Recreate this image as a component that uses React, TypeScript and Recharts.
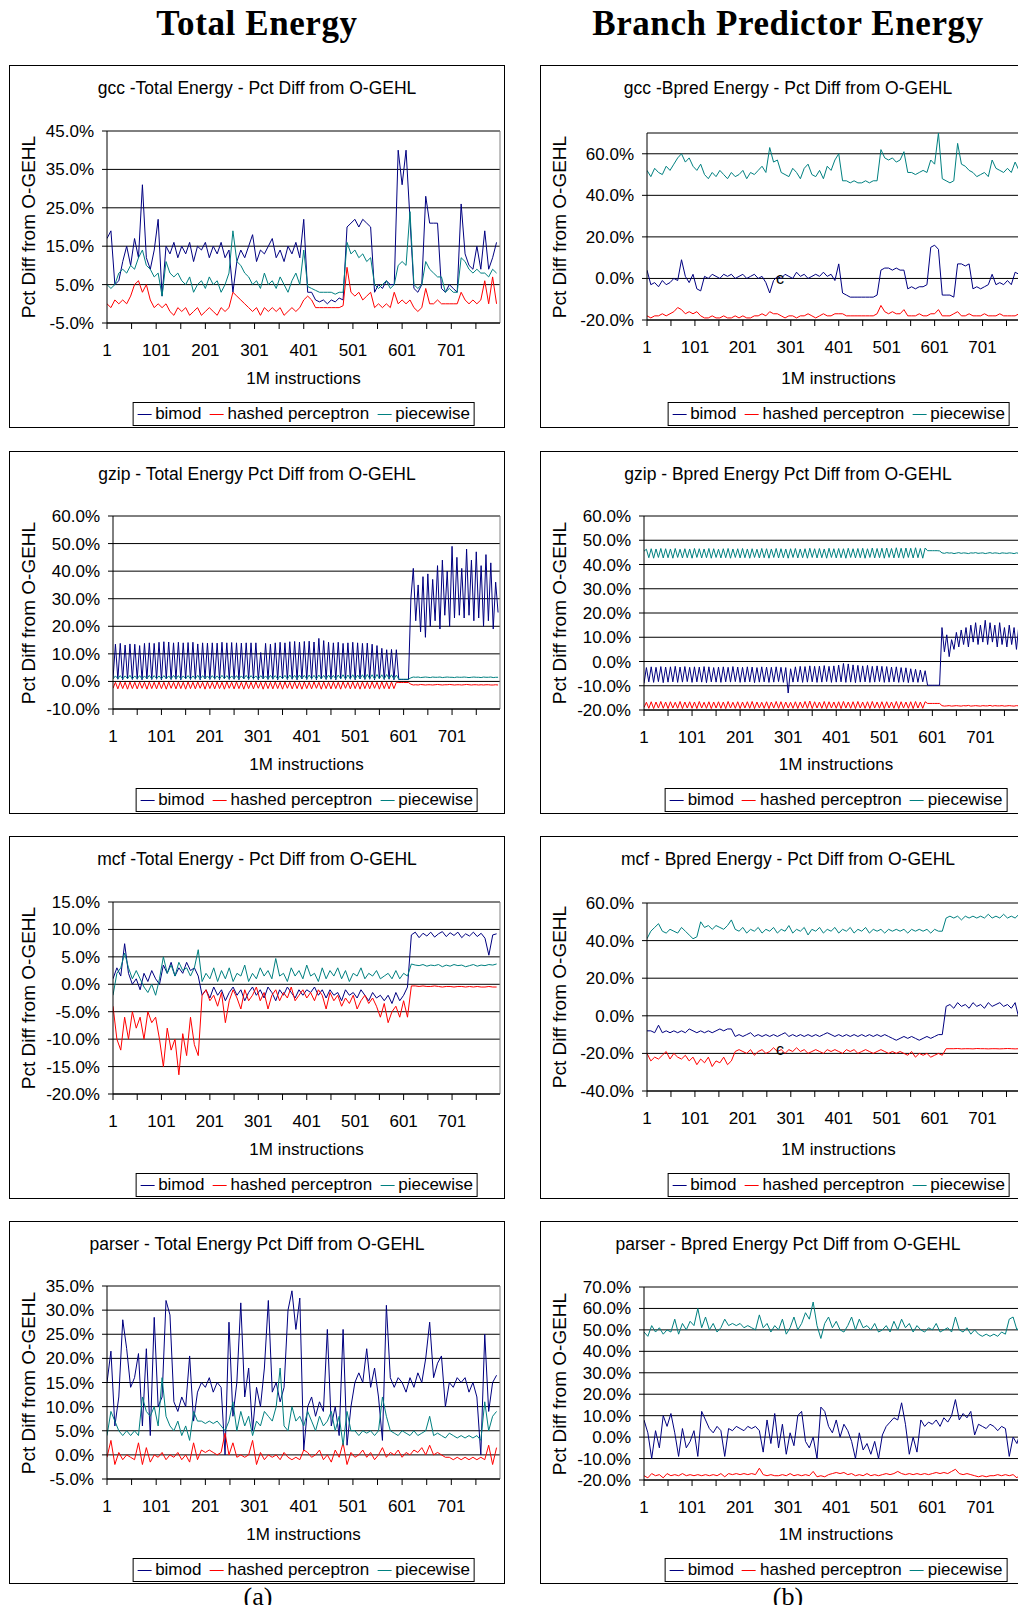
import React from 'react';
import { LineChart, Line, XAxis, YAxis, CartesianGrid, ReferenceLine } from 'recharts';

const SANS = '"Liberation Sans", Arial, Helvetica, sans-serif';
const SERIF = '"Liberation Serif", "Times New Roman", serif';

// category axis: tick marks every 50, labels every 100
const xTicks = [1, 51, 101, 151, 201, 251, 301, 351, 401, 451, 501, 551, 601, 651, 701, 751];
const xTickLabels = [1, 101, 201, 301, 401, 501, 601, 701];

const seriesNames = ['bimod', 'hashed perceptron', 'piecewise'];
const seriesColors = ['#000080', '#ff0000', '#008080'];

// sample spacing (in 1M-instruction intervals)
const STEP = 8;
const GZIP_STEP = 5;

// ---------- gcc ----------
const gccTotalBimod = [
  17, 19, 5, 6, 11, 15, 10, 17, 12, 31,
  12, 9, 14, 22, 2, 15, 13, 16, 12, 15,
  13, 16, 11, 15, 14, 16, 12, 15, 13, 16,
  12, 14, 3, 11, 14, 12, 15, 18, 11, 14,
  13, 15, 17, 12, 14, 11, 15, 13, 16, 12,
  22, 3, 3, 1, 0.5, 1, 0, 1, 0.5, 1.5,
  1, 20, 21, 22, 20, 22, 21, 20, 3, 5,
  4, 6, 5, 5, 40, 31, 40, 22, 4, 3,
  5, 28, 21, 21, 21, 4, 3, 5, 4, 3,
  26, 13, 10, 9, 15, 9, 19, 9, 12, 16,
];
const gccTotalHashed = [
  0, -1, 1, 0, 1, 0, 2, 5, 6, 3,
  5, 1, -1, 0, -1, 0, -2, -3, -1, -2,
  -1, -3, -2, -1, -3, -2, -1, -2, -3, -1,
  -2, -1, 3, 2, 1, 0, -1, -2, -1, -3,
  -1, -2, -1, -2, -1, -3, -2, -1, -2, -1,
  1, 2, 1, -1, -1, -1, -1, -1, -1, -1,
  -0.5, 9.5, 3, 2, 3, 1, 2, 3, -1, 0,
  -1, 0, -1, 3, 0, 1, 0, 1, -1, -2,
  -1, 4, 0, 0, 1, 0, 0, 0, 0, 0,
  3, 1, 0, 1, 0, 1, 6, 0, 7, 0,
];
const gccTotalPiecewise = [
  5, 4, 5, 8, 9, 8, 10, 9, 12, 14,
  10, 9, 7, 8, 2, 11, 8, 7, 8, 6,
  5, 7, 3, 5, 6, 4, 7, 5, 6, 3,
  5, 8, 19, 11, 10, 8, 7, 5, 6, 4,
  8, 5, 6, 4, 7, 5, 3, 6, 8, 5,
  14, 4.5, 4, 3.5, 3, 3, 3, 3, 2.5, 3,
  3, 16, 13, 14, 12, 13, 11, 12, 5, 4,
  5, 6, 4, 5, 10, 11, 10, 24, 5, 4,
  5, 11, 9, 8, 7, 7, 3, 4, 3, 3,
  12, 11, 9, 8, 9, 8, 8, 7, 9, 8,
];

const gccBpredBimod = [
  4, -3, -2, -4, -1, -3, -2, 0, -1, 9,
  1, -2, 2, -5, -6, 1, 0, 2, 1, 0,
  2, 1, 2, 0, 1, 2, 0, 1, 2, 0,
  1, -2, -7, -1, 1, 0, 2, 1, 0, 3,
  1, 2, 0, 1, 2, 1, 3, 1, 2, -1,
  7, -7, -8, -9, -9, -9, -9, -9, -9, -9,
  -8, 4, 5, 5, 4, 5, 4, 4, -5, -4,
  -5, -4, -4, -3, 15, 16, 14, -8, -8, -8,
  -9, 7, 7, 6, 7, -5, -4, -5, -4, -3,
  2, -3, -2, -3, -1, -3, 3, 2, -1, -2,
];
const gccBpredHashed = [
  -18, -19, -18, -18, -17, -18, -17, -16, -14, -15,
  -17, -16, -17, -16, -18, -19, -19, -18, -19, -19,
  -18, -19, -19, -18, -19, -18, -19, -19, -18, -18,
  -17, -18, -16, -17, -17, -18, -19, -18, -18, -19,
  -18, -18, -17, -18, -19, -18, -17, -18, -18, -17,
  -17, -17, -18, -18, -18, -18, -18, -18, -18, -18,
  -17, -13, -16, -17, -16, -17, -17, -15, -18, -18,
  -18, -17, -18, -18, -17, -17, -15, -18, -18, -18,
  -17, -16, -18, -18, -17, -18, -18, -18, -17, -18,
  -18, -18, -17, -18, -18, -18, -18, -17, -14, -18,
];
const gccBpredPiecewise = [
  52, 49, 53, 51, 50, 54, 52, 55, 58, 60,
  56, 58, 54, 52, 55, 50, 48, 51, 49, 52,
  50, 48, 51, 49, 50, 52, 48, 51, 50, 52,
  54, 51, 63, 56, 57, 51, 50, 49, 53, 51,
  48, 53, 55, 50, 49, 52, 48, 54, 52, 57,
  60, 47, 47, 46, 47, 46, 46, 47, 46, 47,
  47, 62, 58, 57, 58, 56, 57, 61, 51, 51,
  50, 51, 52, 51, 57, 55, 70, 48, 47, 46,
  47, 65, 55, 54, 52, 51, 49, 50, 51, 49,
  57, 53, 52, 51, 53, 51, 56, 52, 54, 53,
];

// ---------- gzip ----------
const gzipTotalBimod = [
  1.0, 13.5, 0.8, 13.8, 0.6, 13.2, 0.9, 13.6, 0.7, 13.5,
  0.8, 13.0, 0.6, 13.8, 0.9, 14.0, 0.7, 13.8, 0.8, 14.2,
  0.6, 14.4, 0.9, 14.3, 0.7, 14.0, 0.8, 14.2, 0.6, 14.0,
  0.9, 14.1, 0.7, 14.2, 0.8, 13.6, 0.6, 14.0, 0.9, 13.9,
  0.7, 14.0, 0.8, 13.9, 0.6, 14.2, 0.9, 14.0, 0.7, 14.1,
  0.8, 14.0, 0.6, 13.9, 0.9, 14.0, 0.7, 14.0, 0.8, 14.0,
  0.6, 10.5, 0.9, 13.8, 0.7, 13.5, 0.8, 14.0, 0.6, 14.2,
  0.9, 14.0, 0.7, 14.4, 0.8, 14.5, 0.6, 14.3, 0.9, 14.5,
  0.7, 14.6, 0.8, 14.3, 0.6, 15.6, 0.9, 14.8, 0.7, 14.2,
  0.8, 14.0, 0.6, 14.2, 0.9, 13.8, 0.7, 14.0, 0.8, 14.2,
  0.6, 14.0, 0.9, 13.8, 0.7, 13.9, 0.8, 13.5, 0.6, 13.0,
  0.9, 12.0, 0.7, 11.5, 0.8, 11.6, 0.6, 11.5, 0.7, 0.7,
  0.7, 0.7, 0.7, 30, 41, 22, 35, 18, 38, 16,
  39, 20, 37, 22, 42, 19, 44, 24, 40, 20,
  49, 23, 45, 24, 41, 23, 48, 24, 44, 22,
  47, 23, 42, 20, 46, 22, 43, 19, 36, 25,
];
const gzipTotalHashed = [
  -2.5, -0.3, -2.7, -0.2, -2.6, -0.3, -2.8, -0.2, -2.6, -0.3,
  -2.7, -0.2, -2.5, -0.3, -2.8, -0.2, -2.6, -0.3, -2.7, -0.2,
  -2.6, -0.3, -2.8, -0.2, -2.5, -0.3, -2.7, -0.2, -2.6, -0.3,
  -2.8, -0.2, -2.6, -0.3, -2.7, -0.2, -2.5, -0.3, -2.8, -0.2,
  -2.6, -0.3, -2.7, -0.2, -2.6, -0.3, -2.8, -0.2, -2.5, -0.3,
  -2.7, -0.2, -2.6, -0.3, -2.8, -0.2, -2.6, -0.3, -2.7, -0.2,
  -2.5, -0.3, -2.8, -0.2, -2.6, -0.3, -2.7, -0.2, -2.6, -0.3,
  -2.8, -0.2, -2.5, -0.3, -2.7, -0.2, -2.6, -0.3, -2.8, -0.2,
  -2.6, -0.3, -2.7, -0.2, -2.5, -0.3, -2.8, -0.2, -2.6, -0.3,
  -2.7, -0.2, -2.6, -0.3, -2.8, -0.2, -2.5, -0.3, -2.7, -0.2,
  -2.6, -0.3, -2.8, -0.2, -2.6, -0.3, -2.7, -0.2, -2.5, -0.3,
  -2.8, -0.2, -2.6, -0.3, -2.7, -0.2, -2.6, -0.3, -0.4, -0.4,
  -0.4, -0.4, -0.4, -1.0, -1.3, -1.2, -1.3, -1.1, -1.2, -1.3,
  -1.2, -1.2, -1.3, -1.2, -1.1, -1.2, -1.3, -1.2, -1.2, -1.1,
  -1.2, -1.3, -1.2, -1.2, -1.3, -1.2, -1.1, -1.2, -1.3, -1.2,
  -1.2, -1.3, -1.2, -1.3, -1.2, -1.2, -1.3, -1.3, -1.2, -1.3,
];
const gzipTotalPiecewise = [
  0.9, 2.0, 1.0, 2.1, 0.9, 2.0, 1.0, 2.2, 0.9, 2.0,
  1.0, 2.1, 0.9, 2.0, 1.0, 2.2, 0.9, 2.1, 1.0, 2.0,
  0.9, 2.1, 1.0, 2.0, 0.9, 2.2, 1.0, 2.1, 0.9, 2.0,
  1.0, 2.1, 0.9, 2.0, 1.0, 2.2, 0.9, 2.1, 1.0, 2.0,
  0.9, 2.1, 1.0, 2.0, 0.9, 2.2, 1.0, 2.1, 0.9, 2.0,
  1.0, 2.1, 0.9, 2.0, 1.0, 2.2, 0.9, 2.1, 1.0, 2.0,
  0.9, 2.1, 1.0, 2.0, 0.9, 2.2, 1.0, 2.1, 0.9, 2.0,
  1.0, 2.2, 0.9, 2.3, 1.0, 2.2, 0.9, 2.3, 1.0, 2.2,
  0.9, 2.3, 1.0, 2.2, 0.9, 2.3, 1.0, 2.2, 0.9, 2.3,
  1.0, 2.2, 0.9, 2.3, 1.0, 2.4, 0.9, 2.3, 1.0, 2.4,
  0.9, 2.3, 1.0, 2.4, 0.9, 2.5, 1.0, 2.4, 0.9, 2.5,
  1.0, 2.4, 0.9, 2.5, 1.0, 2.4, 0.9, 2.3, 0.8, 0.8,
  0.8, 0.8, 0.8, 1.3, 1.6, 1.5, 1.6, 1.4, 1.5, 1.6,
  1.5, 1.4, 1.6, 1.5, 1.5, 1.6, 1.4, 1.5, 1.6, 1.5,
  1.5, 1.4, 1.6, 1.5, 1.5, 1.6, 1.5, 1.4, 1.5, 1.6,
  1.5, 1.5, 1.4, 1.6, 1.5, 1.5, 1.6, 1.4, 1.5, 1.5,
];

const gzipBpredBimod = [
  -9.0, -2.5, -8.4, -2.2, -8.6, -2.4, -8.3, -2.1, -8.7, -2.3,
  -8.5, -2.2, -8.4, -2.0, -8.6, -2.3, -8.5, -2.1, -8.3, -2.4,
  -8.6, -2.2, -8.4, -2.3, -8.5, -2.1, -8.7, -2.2, -8.4, -2.5,
  -8.5, -2.3, -8.6, -2.2, -8.4, -2.4, -8.5, -2.1, -8.3, -2.3,
  -8.6, -2.4, -8.5, -2.2, -8.4, -2.3, -8.7, -2.5, -8.5, -2.2,
  -8.4, -2.3, -8.6, -2.4, -8.5, -2.2, -8.3, -2.4, -8.6, -2.5,
  -13.0, -3.0, -8.5, -2.2, -8.4, -2.0, -8.6, -2.1, -8.5, -1.8,
  -8.4, -2.0, -8.6, -1.9, -8.5, -1.7, -8.3, -2.0, -8.6, -1.8,
  -8.5, -1.5, -8.4, -0.8, -8.6, -1.0, -8.5, -1.4, -8.7, -1.6,
  -8.5, -1.8, -8.4, -1.6, -8.6, -2.0, -8.5, -1.8, -8.3, -2.0,
  -8.6, -2.1, -8.5, -2.3, -8.4, -2.2, -8.6, -2.5, -8.5, -2.6,
  -8.7, -3.0, -8.5, -3.2, -8.6, -3.5, -8.4, -3.8, -9.8, -9.8,
  -9.8, -9.8, -9.8, -9.8, 14, 4, 11, 2, 9, 5,
  12, 6, 13, 7, 14, 6, 15, 8, 16, 7,
  15, 8, 17, 7, 16, 8, 15, 6, 16, 7,
  14, 6, 15, 7, 14, 5, 15, 7, 13, 8,
];
const gzipBpredHashed = [
  -19.0, -16.8, -19.3, -16.6, -19.4, -16.7, -19.2, -16.5, -19.3, -16.7,
  -19.4, -16.6, -19.2, -16.8, -19.3, -16.5, -19.4, -16.7, -19.2, -16.6,
  -19.3, -16.7, -19.4, -16.5, -19.2, -16.8, -19.3, -16.6, -19.4, -16.7,
  -19.2, -16.6, -19.3, -16.7, -19.4, -16.5, -19.2, -16.8, -19.3, -16.6,
  -19.4, -16.7, -19.2, -16.6, -19.3, -16.5, -19.4, -16.7, -19.2, -16.8,
  -19.3, -16.6, -19.4, -16.7, -19.2, -16.5, -19.3, -16.6, -19.4, -16.7,
  -19.2, -16.8, -19.3, -16.6, -19.4, -16.7, -19.2, -16.5, -19.3, -16.3,
  -19.4, -16.6, -19.2, -16.7, -19.3, -16.5, -19.4, -16.6, -19.2, -16.7,
  -19.3, -16.6, -19.4, -16.5, -19.2, -16.7, -19.3, -16.6, -19.4, -16.5,
  -19.2, -16.7, -19.3, -16.6, -19.4, -16.5, -19.2, -16.7, -19.3, -16.6,
  -19.4, -16.6, -19.2, -16.7, -19.3, -16.5, -19.4, -16.6, -19.2, -16.7,
  -19.3, -16.6, -19.4, -16.5, -19.2, -16.7, -19.3, -16.6, -17.3, -17.3,
  -17.3, -17.3, -17.3, -17.3, -18.2, -18.4, -18.3, -18.2, -18.4, -18.3,
  -18.2, -18.3, -18.4, -18.2, -18.3, -18.1, -18.4, -18.3, -18.2, -18.3,
  -18.4, -18.2, -18.3, -18.3, -18.1, -18.4, -18.2, -18.3, -18.3, -18.2,
  -18.4, -18.3, -18.2, -18.3, -18.4, -18.2, -18.3, -18.1, -18.3, -18.2,
];
const gzipBpredPiecewise = [
  45.5, 46.3, 42.8, 46.5, 42.6, 46.4, 42.9, 46.6, 42.7, 46.5,
  42.8, 46.4, 42.6, 46.6, 42.9, 46.3, 42.7, 46.5, 42.8, 46.4,
  42.6, 46.6, 42.9, 46.5, 42.7, 46.4, 42.8, 46.6, 42.6, 46.5,
  42.9, 46.3, 42.7, 46.5, 42.8, 46.6, 42.6, 46.4, 42.9, 46.5,
  42.7, 46.6, 42.8, 46.4, 42.6, 46.5, 42.9, 46.3, 42.7, 46.6,
  42.8, 46.5, 42.6, 46.4, 42.9, 46.6, 42.7, 46.5, 42.8, 46.4,
  42.6, 46.5, 42.9, 46.6, 42.7, 46.4, 42.8, 46.5, 42.6, 46.7,
  42.9, 46.5, 42.7, 46.6, 42.8, 46.4, 42.6, 46.7, 42.9, 46.5,
  42.7, 46.6, 42.8, 46.5, 42.6, 46.7, 42.9, 46.5, 42.7, 46.6,
  42.8, 46.7, 42.6, 46.5, 42.9, 46.8, 42.7, 46.6, 42.8, 46.7,
  42.6, 46.8, 42.9, 46.6, 42.7, 46.9, 42.8, 46.7, 42.6, 46.8,
  42.9, 46.7, 42.7, 46.9, 42.8, 46.6, 42.6, 46.8, 45.7, 45.7,
  45.7, 45.7, 45.7, 45.6, 44.8, 44.6, 44.9, 44.7, 44.8, 44.5,
  44.7, 44.9, 44.6, 44.8, 44.7, 44.5, 44.8, 44.7, 44.9, 44.6,
  44.7, 44.8, 44.5, 44.7, 44.9, 44.6, 44.8, 44.7, 44.5, 44.8,
  44.7, 44.6, 44.8, 44.7, 44.5, 44.8, 44.6, 44.7, 44.5, 44.6,
];

// ---------- mcf ----------
const mcfTotalBimod = [
  1, 3, 1.5, 7.4, 2, 0, 1, -1, 2, 0.5,
  2.5, 1, 0, 3.5, 2, 4, 1.5, 3, 2, 4,
  2.5, 3, 1.5, -2, -1, -2.5, -0.5, -2, -1, -3,
  -1.5, -0.5, -2, -1, -3, -1.5, -0.5, -2, -1, -2.5,
  -0.5, -1.5, -3, -1, -2, -0.5, -1.5, -2.5, -1, -2,
  -1, -1.5, -0.5, -2, -1, -2.5, -1, -2, -1.5, -3,
  -1, -2, -1.5, -2.5, -1, -2, -3, -1.5, -2.5, -2,
  -3, -2, -3.5, -1.5, -3, -2, -0.5, 9, 9.5, 8.5,
  9.3, 8.8, 9.5, 8.6, 9.2, 9.6, 8.7, 9.4, 8.9, 9.5,
  8.5, 9.2, 8.8, 9.5, 8.7, 9.3, 8.4, 5.3, 9, 9.2,
];
const mcfTotalHashed = [
  -4, -10, -12, -6, -10, -5, -8, -6, -10, -5,
  -7, -6, -10, -15, -8, -12, -10, -16.5, -9, -13,
  -6, -11, -13, -2, -1, -3, -2, -4, -1.5, -7,
  -3, -1, -2.5, -4.5, -1, -3, -2, -0.5, -3, -1.5,
  -4.5, -2, -1, -3, -1.5, -2.5, -0.5, -3, -2, -1,
  -2.5, -1.5, -3, -1, -2, -4.5, -1.5, -3, -2, -4,
  -2.5, -3.5, -2, -4.5, -3, -2, -3.5, -2.5, -4, -6,
  -3.5, -7, -5, -4, -6, -3, -6, -0.3, -0.3, -0.4,
  -0.3, -0.4, -0.4, -0.3, -0.4, -0.5, -0.4, -0.4, -0.5, -0.4,
  -0.4, -0.5, -0.4, -0.5, -0.4, -0.5, -0.5, -0.4, -0.5, -0.5,
];
const mcfTotalPiecewise = [
  -2, 2, 3, 5.7, 3, 1, 2.5, 1, -0.5, -1.5,
  0, -2, 1, 5, 2, 3.5, 1.5, 4, 2.5, 3,
  1.5, 3, 6.3, 0.5, 2, 1, 3, 0.5, 2.5, 1,
  3, 0.5, 2, 1.5, 3.5, 0.5, 2, 1, 3, 1.5,
  2.5, 1, 4.7, 1.5, 2, 0.5, 3, 1.5, 2.5, 1,
  3.5, 1.5, 2, 0.5, 3, 1, 2.5, 1.5, 3, 1,
  2.5, 0.5, 2, 1.5, 3, 1, 2, 1.5, 2.5, 1,
  1.5, 2, 1, 2.5, 1, 2, 1.5, 3.7, 3.5, 3.4,
  3.6, 3.3, 3.5, 3.4, 3.6, 3.2, 3.5, 3.3, 3.6, 3.4,
  3.5, 3.2, 3.4, 3.6, 3.3, 3.5, 3.4, 3.6, 3.5, 3.7,
];

const mcfBpredBimod = [
  -8, -8, -9, -5, -9, -8, -9, -8, -9, -8,
  -9, -7, -8, -9, -8, -9, -8, -9, -8, -7,
  -8, -7, -7, -11, -10, -11, -10, -9, -11, -10,
  -11, -10, -11, -10, -11, -10, -9, -11, -10, -11,
  -10, -11, -10, -11, -10, -11, -10, -9, -10, -11,
  -10, -11, -10, -11, -10, -11, -10, -11, -10, -11,
  -10, -11, -10, -11, -12, -13, -12, -11, -12, -11,
  -12, -13, -12, -11, -12, -11, -10, -10, 5, 6,
  4, 7, 5, 6, 4, 7, 5, 6, 4, 7,
  5, 6, 7, 5, 6, 4, 7, -1.5, 5, 6,
];
const mcfBpredHashed = [
  -20, -24, -22, -23, -21, -19, -23, -20, -22, -23,
  -21, -24, -22, -26, -23, -25, -22, -27, -24, -25,
  -22, -26, -24, -19, -18, -19, -20, -18, -21, -19,
  -18, -20, -19, -17, -19, -18, -20, -18, -19, -17,
  -19, -18, -20, -19, -18, -19, -20, -18, -19, -18,
  -19, -20, -18, -19, -18, -20, -19, -18, -19, -20,
  -19, -18, -19, -20, -19, -20, -19, -20, -21, -19,
  -22, -20, -21, -20, -22, -21, -20, -21, -17.5, -17.5,
  -17.5, -17.4, -17.6, -17.5, -17.5, -17.6, -17.4, -17.5, -17.5, -17.6,
  -17.5, -17.5, -17.6, -17.5, -17.4, -17.5, -17.6, -17.5, -17.5, -17.6,
];
const mcfBpredPiecewise = [
  41, 45, 47, 49, 45, 44, 46, 45, 44, 47,
  45, 43, 41, 42, 50, 47, 48, 46, 48, 47,
  46, 48, 51, 46, 45, 47, 44, 46, 45, 47,
  44, 46, 45, 47, 44, 46, 45, 48, 44, 46,
  45, 47, 43, 46, 45, 47, 44, 46, 45, 47,
  44, 46, 45, 47, 44, 46, 45, 47, 44, 46,
  45, 46, 44, 46, 45, 46, 45, 46, 44, 46,
  45, 46, 45, 46, 44, 46, 45, 45, 52, 53,
  52, 53, 51, 53, 52, 53, 52, 53, 52, 54,
  52, 53, 52, 54, 52, 53, 52, 54, 53, 52,
];

// ---------- parser ----------
const parserTotalBimod = [
  15, 21.5, 6, 12, 28, 22, 14, 16, 21, 6,
  22, 4, 28.5, 10, 12, 32, 29, 11, 9, 12,
  10, 20.5, 7, 13, 15, 14, 16, 13, 15, 14,
  0, 27.5, 8, 15, 31.5, 12, 18, 5, 14, 10,
  18, 32, 13, 15, 11, 14, 30, 34, 26, 32.5,
  1, 10, 12, 8, 11, 9, 26, 6, 10, 4,
  26, 2, 10, 15, 17, 15, 22, 14, 18, 12,
  3, 31, 16, 14, 16, 15, 13, 16, 14, 17,
  15, 20, 27.5, 16, 19, 20.5, 10, 15, 14, 16,
  15, 16, 13, 15, 12, 0, 25, 9, 15, 16.5,
];
const parserTotalHashed = [
  -0.5, 3, -2, 0.5, -1, 0, -0.5, -1, 2.5, -2,
  1.5, -1.5, 0, -0.5, 0.5, -1, 0, -0.5, 0.5, -1,
  0, -1.5, 2.5, -1, 1, 0.5, 1, 0.5, 0, 0.5,
  4.5, 0, 2.5, -0.5, 0, -0.5, 0, 3, -2, 0.5,
  -1, 0, -0.5, 0, -1, 0.5, -0.5, -1, -0.5, -1,
  1, 0.5, -0.5, 0, 1, -1, 0, -1.5, 1, -0.5,
  2.5, -2, 0.5, -0.5, 0, 1, -0.5, 0.5, -1, 0,
  1.5, -0.5, 0.5, 0, 1, -0.5, 0.5, 0, 1, 0.5,
  1.5, 0, 2, 0, 0.5, 0, -0.5, -0.5, -1, -0.5,
  -1, -0.5, -1, -0.5, -1, -0.5, -1, 2, -2, 1.5,
];
const parserTotalPiecewise = [
  4, 9, 7, 5, 4, 5, 4, 5, 4, 12,
  9, 8, 10, 6, 16, 8, 6, 5, 7, 4,
  6, 3, 9, 7, 7, 6.5, 7, 6.5, 7, 6,
  5, 7, 11, 5, 9, 6, 8, 4, 7, 6,
  9, 8, 7, 10, 18, 6, 5, 10, 7, 8,
  6, 9, 7, 5, 8, 6, 7, 9, 5, 8,
  2, 9, 5, 5, 4, 5, 4.5, 5, 4, 5,
  12, 8, 5, 4.5, 4, 5, 4.5, 4, 5, 4,
  4.5, 5, 8, 4, 4.5, 4, 3.5, 4.5, 4, 3.5,
  4, 3.5, 4, 3.5, 4, 3, 11, 5, 8, 9,
];

const parserBpredBimod = [
  8, 2, -10, 3, -5, 10, 5, 11, 2, -9,
  4, -5, -2, 3, -9, 12, 8, 4, 2, 5,
  3, -9, 4, 3, 5, 4, 3, 5, 4, 5,
  3, -7, 8, -3, 11, -5, 6, -8, 2, -4,
  10, 12, -2, -5, 0, -10, 14, 12, 5, 2,
  8, 0, 6, 3, -2, -10, 2, -6, -3, -8,
  -2, -10, 1, 5, 7, 9, 8, 16, 6, -8,
  0, -7, 8, 5, 7, 6, 8, 5, 9, 7,
  10, 17.5, 8, 11, 9, 12, 1, 6, 5, 4,
  6, 5, 3, 5, 4, -9, 0, -3, 3, 2,
];
const parserBpredHashed = [
  -18, -19, -17, -18, -17.5, -19, -17, -18, -17.5, -18,
  -17, -18, -17.5, -18, -17.5, -18, -17.5, -18, -17.5, -18,
  -17, -18.5, -17, -17.5, -17, -17.5, -17, -17.5, -17, -17.5,
  -14.5, -17.5, -18, -17.5, -18, -18, -17.5, -18, -17, -18,
  -17.5, -18, -17.5, -18, -16, -18.5, -18, -18.5, -17.5, -17,
  -16.5, -17, -16.5, -17.5, -17, -18, -17.5, -18, -17, -18,
  -17.5, -18, -17.5, -17, -17.5, -17, -16, -17, -17.5, -17,
  -17.5, -17, -17.5, -17, -17.5, -17, -16.5, -17, -16.5, -17,
  -16, -15, -17, -17.5, -17, -17.5, -18, -18.5, -18, -18.5,
  -18, -18, -17.5, -18, -17.5, -18, -17.5, -19, -17, -16.5,
];
const parserBpredPiecewise = [
  49, 47, 52, 49, 51, 48, 50, 49, 55, 48,
  53, 50, 54, 52, 60, 51, 56, 50, 53, 49,
  51, 55, 52, 53, 52, 53, 51, 52, 51, 50,
  57, 51, 53, 49, 52, 50, 55, 48, 51, 56,
  50, 53, 58, 55, 63, 52, 46, 53, 56, 51,
  54, 50, 49, 52, 56, 50, 55, 51, 52, 50,
  53, 49, 50, 52, 49, 54, 50, 55, 51, 53,
  49, 52, 50, 49, 51, 50, 53, 49, 50, 51,
  49, 56, 50, 49, 51, 48, 50, 48, 47, 48,
  47, 48, 47, 49, 48, 55, 56, 50, 52, 53,
];

// y tick values per chart
const gccTotalTicks = [-5, 5, 15, 25, 35, 45];
const gccBpredTicks = [-20, 0, 20, 40, 60];
const gzipTotalTicks = [-10, 0, 10, 20, 30, 40, 50, 60];
const gzipBpredTicks = [-20, -10, 0, 10, 20, 30, 40, 50, 60];
const mcfTotalTicks = [-20, -15, -10, -5, 0, 5, 10, 15];
const mcfBpredTicks = [-40, -20, 0, 20, 40, 60];
const parserTotalTicks = [-5, 0, 5, 10, 15, 20, 25, 30, 35];
const parserBpredTicks = [-20, -10, 0, 10, 20, 30, 40, 50, 60, 70];

const BOX_W = 496;
const BOX_H = 363;

type PanelDef = {
  title: string;
  x: number;
  y: number;
  plot: { l: number; t: number; r: number; b: number };
  yMin: number;
  yMax: number;
  yTicks: number[];
  step: number;
  bimod: number[];
  hashed: number[];
  piecewise: number[];
  stray?: { x: number; y: number };
};

const panels: PanelDef[] = [
  {
    title: 'gcc -Total Energy - Pct Diff from O-GEHL', x: 9, y: 65,
    plot: { l: 107, t: 131, r: 500, b: 323 }, yMin: -5, yMax: 45, yTicks: gccTotalTicks,
    step: STEP, bimod: gccTotalBimod, hashed: gccTotalHashed, piecewise: gccTotalPiecewise,
  },
  {
    title: 'gcc -Bpred Energy - Pct Diff from O-GEHL', x: 540, y: 65,
    plot: { l: 647, t: 133, r: 1030, b: 320 }, yMin: -20, yMax: 70, yTicks: gccBpredTicks,
    step: STEP, bimod: gccBpredBimod, hashed: gccBpredHashed, piecewise: gccBpredPiecewise,
    stray: { x: 780, y: 279 },
  },
  {
    title: 'gzip - Total Energy Pct Diff from O-GEHL', x: 9, y: 451,
    plot: { l: 113, t: 516, r: 500, b: 709 }, yMin: -10, yMax: 60, yTicks: gzipTotalTicks,
    step: GZIP_STEP, bimod: gzipTotalBimod, hashed: gzipTotalHashed, piecewise: gzipTotalPiecewise,
  },
  {
    title: 'gzip - Bpred Energy Pct Diff from O-GEHL', x: 540, y: 451,
    plot: { l: 644, t: 516, r: 1028, b: 710 }, yMin: -20, yMax: 60, yTicks: gzipBpredTicks,
    step: GZIP_STEP, bimod: gzipBpredBimod, hashed: gzipBpredHashed, piecewise: gzipBpredPiecewise,
  },
  {
    title: 'mcf -Total Energy - Pct Diff from O-GEHL', x: 9, y: 836,
    plot: { l: 113, t: 902, r: 500, b: 1094 }, yMin: -20, yMax: 15, yTicks: mcfTotalTicks,
    step: STEP, bimod: mcfTotalBimod, hashed: mcfTotalHashed, piecewise: mcfTotalPiecewise,
  },
  {
    title: 'mcf - Bpred Energy - Pct Diff from O-GEHL', x: 540, y: 836,
    plot: { l: 647, t: 903, r: 1030, b: 1091 }, yMin: -40, yMax: 60, yTicks: mcfBpredTicks,
    step: STEP, bimod: mcfBpredBimod, hashed: mcfBpredHashed, piecewise: mcfBpredPiecewise,
    stray: { x: 780, y: 1050 },
  },
  {
    title: 'parser - Total Energy Pct Diff from O-GEHL', x: 9, y: 1221,
    plot: { l: 107, t: 1286, r: 500, b: 1479 }, yMin: -5, yMax: 35, yTicks: parserTotalTicks,
    step: STEP, bimod: parserTotalBimod, hashed: parserTotalHashed, piecewise: parserTotalPiecewise,
  },
  {
    title: 'parser - Bpred Energy Pct Diff from O-GEHL', x: 540, y: 1221,
    plot: { l: 644, t: 1287, r: 1028, b: 1480 }, yMin: -20, yMax: 70, yTicks: parserBpredTicks,
    step: STEP, bimod: parserBpredBimod, hashed: parserBpredHashed, piecewise: parserBpredPiecewise,
  },
];

const abs = (left: number, top: number): React.CSSProperties => ({ position: 'absolute', left, top });

function Panel({ p }: { p: PanelDef }) {
  const data = p.bimod.map((v, i) => ({
    x: 1 + i * p.step,
    bimod: v,
    hashed: p.hashed[i],
    piecewise: p.piecewise[i],
  }));
  const plotCx = (p.plot.l + p.plot.r) / 2;
  const plotCy = (p.plot.t + p.plot.b) / 2;
  const tickStyle = { fill: '#000', fontSize: 17, fontFamily: SANS };
  const keys = ['bimod', 'hashed', 'piecewise'];

  return (
    <>
      <div style={{ ...abs(p.x, p.y), width: BOX_W, height: BOX_H, border: '1px solid #000', boxSizing: 'border-box' }} />
      <div style={{ ...abs(p.x, p.y + 23), width: BOX_W, textAlign: 'center', transform: 'translateY(-50%)', fontSize: 17.5, fontFamily: SANS, whiteSpace: 'nowrap' }}>
        {p.title}
      </div>
      <div style={{ ...abs(p.x, p.y), width: BOX_W, height: BOX_H }}>
        <LineChart
          width={BOX_W}
          height={BOX_H}
          data={data}
          margin={{ top: p.plot.t - p.y, right: p.x + BOX_W - p.plot.r, left: 0, bottom: 0 }}
        >
          <CartesianGrid vertical={false} stroke="#000" />
          <XAxis
            type="number"
            dataKey="x"
            domain={[1, 800]}
            ticks={xTicks}
            interval={0}
            allowDataOverflow
            height={p.y + BOX_H - p.plot.b}
            tickSize={6}
            tickMargin={15}
            stroke="#000"
            tick={tickStyle}
            tickFormatter={(v: number) => (xTickLabels.includes(v) ? String(v) : '')}
          />
          <YAxis
            type="number"
            domain={[p.yMin, p.yMax]}
            ticks={p.yTicks}
            interval={0}
            allowDataOverflow
            width={p.plot.l - p.x}
            tickSize={5}
            tickMargin={8}
            stroke="#000"
            tick={tickStyle}
            tickFormatter={(v: number) => `${v.toFixed(1)}%`}
          />
          <ReferenceLine y={p.yMax} stroke="#808080" />
          <ReferenceLine x={800} stroke="#808080" />
          {keys.map((k, i) => (
            <Line
              key={k}
              type="linear"
              dataKey={k}
              stroke={seriesColors[i]}
              strokeWidth={1}
              dot={false}
              activeDot={false}
              isAnimationActive={false}
            />
          ))}
        </LineChart>
      </div>
      <div style={{ ...abs(p.x + 20, plotCy), transform: 'translate(-50%, -50%) rotate(-90deg)', fontSize: 19, fontFamily: SANS, whiteSpace: 'nowrap' }}>
        Pct Diff from O-GEHL
      </div>
      <div style={{ ...abs(plotCx, p.y + 314), transform: 'translate(-50%, -50%)', fontSize: 17, fontFamily: SANS, whiteSpace: 'nowrap' }}>
        1M instructions
      </div>
      {p.stray && (
        <div style={{ ...abs(p.stray.x, p.stray.y), transform: 'translate(-50%, -50%)', fontSize: 16, fontFamily: SANS }}>c</div>
      )}
      <div
        style={{
          ...abs(plotCx, p.y + 337),
          transform: 'translateX(-50%)',
          height: 24,
          boxSizing: 'border-box',
          border: '1px solid #000',
          display: 'flex',
          alignItems: 'center',
          padding: '0 4px',
          fontSize: 17,
          fontFamily: SANS,
          whiteSpace: 'nowrap',
          background: '#fff',
        }}
      >
        {seriesNames.map((n, i) => (
          <span key={n} style={{ display: 'flex', alignItems: 'center', marginRight: i < 2 ? 8 : 0 }}>
            <span style={{ display: 'inline-block', width: 14, height: 1, background: seriesColors[i], marginRight: 4 }} />
            {n}
          </span>
        ))}
      </div>
    </>
  );
}

export default function App() {
  return (
    <div style={{ position: 'relative', margin: -8, width: 1026, height: 1613, overflow: 'hidden', background: '#fff' }}>
      <div style={{ ...abs(257, 24), transform: 'translate(-50%, -50%)', fontFamily: SERIF, fontWeight: 'bold', fontSize: 35, letterSpacing: 0.6, whiteSpace: 'nowrap' }}>
        Total Energy
      </div>
      <div style={{ ...abs(788, 24), transform: 'translate(-50%, -50%)', fontFamily: SERIF, fontWeight: 'bold', fontSize: 35, letterSpacing: 0.6, whiteSpace: 'nowrap' }}>
        Branch Predictor Energy
      </div>
      {panels.map((p) => (
        <Panel key={p.title} p={p} />
      ))}
      <div style={{ ...abs(258, 1597), transform: 'translate(-50%, -50%)', fontFamily: SERIF, fontSize: 26 }}>(a)</div>
      <div style={{ ...abs(788, 1597), transform: 'translate(-50%, -50%)', fontFamily: SERIF, fontSize: 26 }}>(b)</div>
    </div>
  );
}
